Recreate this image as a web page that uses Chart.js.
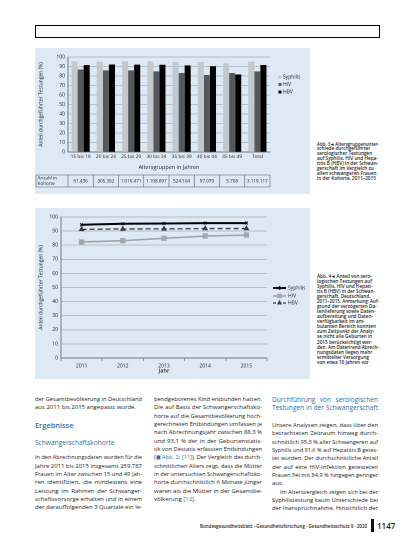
<!DOCTYPE html>
<html lang="de">
<head>
<meta charset="utf-8">
<title>Serologische Testungen in der Schwangerschaft</title>
<script src="https://cdn.jsdelivr.net/npm/chart.js@4.4.1/dist/chart.umd.min.js"></script>
<style>
  html, body { margin: 0; padding: 0; background: #fff; }
  body { width: 413px; height: 550px; position: relative; overflow: hidden;
         font-family: "Open Sans", sans-serif; color: #1c1c1c; }
  .kasten { position: absolute; left: 35px; top: 25px; width: 343px; height: 11px; border: 1px solid #000; }
  .panel { position: absolute; left: 35px; width: 275px; background: #dde9f5; }
  .panel canvas { position: absolute; left: 0; top: 0; }
  .zeile { position: absolute; white-space: nowrap; transform-origin: 0 50%; }
  .blau { color: #2f6fa8; }
</style>
</head>
<body>
<div class="kasten"></div>
<div class="panel" style="top:48px;height:146px"><canvas id="grafik-alter" width="275" height="146"></canvas></div>
<div class="panel" style="top:208px;height:171px"><canvas id="grafik-jahr" width="275" height="171"></canvas></div>

<script>
// ---------------------------------------------------------------------
// Daten Abb. 3 : Testungen nach Altersgruppen
// ---------------------------------------------------------------------
const altersgruppen = ['15 bis 19', '20 bis 24', '25 bis 29', '30 bis 34', '35 bis 39', '40 bis 44', '45 bis 49', 'Total'];
const syphilisAlter = [95.6, 95.0, 95.6, 95.4, 94.9, 94.8, 93.3, 95.3];
const hivAlter = [86.9, 85.9, 85.9, 84.9, 83.2, 81.1, 83.2, 84.9];
const hbvAlter = [91.4, 92.1, 92.0, 91.9, 91.2, 90.3, 81.6, 91.6];
const kohorte = ['61.436', '305.362', '1.016.471', '1.108.897', '524.164', '97.079', '5.708', '3.119.117'];

// Daten Abb. 4 : Testungen nach Jahr
const jahre = ['2011', '2012', '2013', '2014', '2015'];
const syphilisJahr = [94.5, 95.2, 95.4, 95.7, 95.7];
const hivJahr = [82.3, 83.2, 84.9, 86.5, 87.2];
const hbvJahr = [91.2, 91.5, 91.6, 91.8, 91.8];

const achsenMin = 0;
const achsenMax = 100;
const achsenSchritt = 10;

const schrift = "'Open Sans', sans-serif";
const achsenTitel = 'Anteil durchgeführter Testungen (%)';

// Tabelle "Anzahl in Kohorte" unter der x-Achse, an den Kategorien ausgerichtet
const tabellePlugin = {
  id: 'kohortenTabelle',
  afterDraw(chart) {
    const ctx = chart.ctx;
    const x = chart.scales.x;
    const oben = chart.chartArea.bottom + 23;
    const hoehe = 12;
    const n = altersgruppen.length;
    const breite = (x.right - x.left) / n;
    ctx.save();
    ctx.strokeStyle = '#5a5f64';
    ctx.lineWidth = 0.6;
    ctx.beginPath();
    ctx.moveTo(1, oben); ctx.lineTo(x.right, oben);
    ctx.moveTo(1, oben + hoehe); ctx.lineTo(x.right, oben + hoehe);
    ctx.moveTo(1, oben); ctx.lineTo(1, oben + hoehe);
    for (let i = 0; i <= n; i++) {
      const px = x.left + i * breite;
      ctx.moveTo(px, oben); ctx.lineTo(px, oben + hoehe);
    }
    ctx.stroke();
    ctx.fillStyle = '#222';
    ctx.font = '4.6px ' + schrift;
    ctx.textBaseline = 'middle';
    ctx.textAlign = 'left';
    ctx.fillText('Anzahl in', 2.5, oben + 3.3);
    ctx.fillText('Kohorte', 2.5, oben + 8.7);
    ctx.textAlign = 'center';
    kohorte.forEach((wert, i) => {
      ctx.fillText(wert, x.getPixelForValue(i), oben + hoehe / 2);
    });
    ctx.restore();
  }
};

// Eigene Legende rechts vom Diagramm (Kästchen oder Linie mit Markierung),
// Abstände gemessen ab Oberkante der Zeichenfläche
const legendePlugin = {
  id: 'legendeRechts',
  afterDraw(chart, args, opts) {
    const ctx = chart.ctx;
    const area = chart.chartArea;
    ctx.save();
    ctx.font = '5px ' + schrift;
    ctx.textBaseline = 'middle';
    ctx.textAlign = 'left';
    chart.data.datasets.forEach((ds, i) => {
      const y = area.top + opts.versatz[i];
      const x = area.right + opts.abstand;
      if (opts.art === 'linie') {
        ctx.strokeStyle = ds.borderColor;
        ctx.fillStyle = ds.backgroundColor;
        ctx.lineWidth = ds.borderWidth;
        ctx.setLineDash(ds.borderDash ? [3, 2] : []);
        ctx.beginPath();
        ctx.moveTo(x, y); ctx.lineTo(x + 13, y);
        ctx.stroke();
        ctx.setLineDash([]);
        Chart.helpers.drawPoint(ctx, { pointStyle: ds.pointStyle, radius: ds.pointRadius * 0.8, borderWidth: 1, rotation: 0 }, x + 6.5, y);
        ctx.fillStyle = '#222';
        ctx.fillText(ds.label, x + 15, y);
      } else {
        ctx.fillStyle = ds.backgroundColor;
        ctx.fillRect(x - 1.5, y - 1.5, 3, 3);
        ctx.fillStyle = '#222';
        ctx.fillText(ds.label, x + 3, y);
      }
    });
    ctx.restore();
  }
};

// Säulendiagramm : Anteil durchgeführter Testungen nach Altersgruppen
new Chart(document.getElementById('grafik-alter').getContext('2d'), {
  type: 'bar',
  data: {
    labels: altersgruppen,
    datasets: [
      { label: 'Syphilis', data: syphilisAlter, backgroundColor: '#c3c8cd' },
      { label: 'HIV', data: hivAlter, backgroundColor: '#53585d' },
      { label: 'HBV', data: hbvAlter, backgroundColor: '#000000' }
    ]
  },
  options: {
    responsive: false,
    animation: false,
    devicePixelRatio: 2,
    categoryPercentage: 0.72,
    barPercentage: 1.0,
    layout: { padding: { left: 2, right: 40, top: 9, bottom: 2 } },
    plugins: {
      legend: { display: false },
      tooltip: { enabled: false },
      legendeRechts: { art: 'kasten', abstand: 10, versatz: [20, 27.5, 35] }
    },
    scales: {
      y: {
        min: achsenMin, max: achsenMax,
        afterFit: (skala) => { skala.width = 31; },
        ticks: { stepSize: achsenSchritt, color: '#222', padding: 3, font: { size: 5, family: schrift } },
        grid: { color: '#8d959c', lineWidth: 0.6, drawTicks: false },
        border: { color: '#5a5f64', width: 0.8 },
        title: { display: true, text: achsenTitel, color: '#222', padding: 1, font: { size: 5, family: schrift } }
      },
      x: {
        afterFit: (skala) => { skala.height = 40; },
        ticks: { color: '#222', padding: 2, maxRotation: 0, minRotation: 0, autoSkip: false,
                 font: { size: 4.8, family: schrift } },
        grid: { display: false, drawTicks: false, tickLength: 0 },
        border: { color: '#5a5f64', width: 0.8 },
        title: { display: true, text: 'Altersgruppen in Jahren', color: '#222', padding: { top: 1, bottom: 21.5 },
                 font: { size: 5.5, family: schrift } }
      }
    }
  },
  plugins: [tabellePlugin, legendePlugin]
});

// Liniendiagramm : Anteil durchgeführter Testungen 2011-2015
new Chart(document.getElementById('grafik-jahr').getContext('2d'), {
  type: 'line',
  data: {
    labels: jahre,
    datasets: [
      { label: 'Syphilis', data: syphilisJahr, borderColor: '#000', backgroundColor: '#000',
        borderWidth: 2, pointStyle: 'crossRot', pointRadius: 2, pointBorderWidth: 1 },
      { label: 'HIV', data: hivJahr, borderColor: '#a3a6a9', backgroundColor: '#a3a6a9',
        borderWidth: 1.6, pointStyle: 'rect', pointRadius: 2.6 },
      { label: 'HBV', data: hbvJahr, borderColor: '#3c3f42', backgroundColor: '#3c3f42',
        borderWidth: 1.3, borderDash: [5, 3], pointStyle: 'triangle', pointRadius: 2.2 }
    ]
  },
  options: {
    responsive: false,
    animation: false,
    devicePixelRatio: 2,
    layout: { padding: { left: 2, right: 43, top: 9, bottom: 2 } },
    plugins: {
      legend: { display: false },
      tooltip: { enabled: false },
      legendeRechts: { art: 'linie', abstand: 6, versatz: [71, 79, 86] }
    },
    scales: {
      y: {
        min: achsenMin, max: achsenMax,
        afterFit: (skala) => { skala.width = 24; },
        ticks: { stepSize: achsenSchritt, color: '#222', padding: 3, font: { size: 5, family: schrift } },
        grid: { color: '#8d959c', lineWidth: 0.6, drawTicks: false },
        border: { color: '#5a5f64', width: 0.8 },
        title: { display: true, text: achsenTitel, color: '#222', padding: 1, font: { size: 5, family: schrift } }
      },
      x: {
        offset: true,
        afterFit: (skala) => { skala.height = 19; },
        ticks: { color: '#222', padding: 2, maxRotation: 0, font: { size: 5, family: schrift } },
        grid: { display: true, drawOnChartArea: false, offset: true, tickLength: 3, color: '#5a5f64', lineWidth: 0.6 },
        border: { color: '#5a5f64', width: 0.8 },
        title: { display: true, text: 'Jahr', color: '#222', padding: { top: 1, bottom: 2.7 },
                 font: { size: 5.5, family: schrift, weight: '600' } }
      }
    }
  },
  plugins: [legendePlugin]
});

// ---------------------------------------------------------------------
// Fliesstext, Bildunterschriften und Fusszeile
// ---------------------------------------------------------------------
const spalte1 = [
  { y: 399, t: 'der Gesamtbevölkerung in Deutschland', j: true },
  { y: 407, t: 'aus 2011 bis 2015 angepasst wurde.' },
  { y: 457.3, t: 'In den Abrechnungsdaten wurden für die', j: true },
  { y: 465.7, t: 'Jahre 2011 bis 2015 insgesamt 259.787', j: true },
  { y: 474, t: 'Frauen im Alter zwischen 15 und 49 Jah-', j: true },
  { y: 482.3, t: 'ren identifiziert, die mindestens eine', j: true },
  { y: 490.7, t: 'Leistung im Rahmen der Schwanger-', j: true },
  { y: 499, t: 'schaftsvorsorge erhalten und in einem', j: true },
  { y: 507.3, t: 'der darauffolgenden 3 Quartale ein le-', j: true }
];
const spalte2 = [
  { y: 399, t: 'bendgeborenes Kind entbunden hatten.', j: true },
  { y: 407, t: 'Die auf Basis der Schwangerschaftsko-', j: true },
  { y: 415.7, t: 'horte auf die Gesamtbevölkerung hoch-', j: true },
  { y: 424, t: 'gerechneten Entbindungen umfassen je', j: true },
  { y: 432.3, t: 'nach Abrechnungsjahr zwischen 88,3 %', j: true },
  { y: 440.7, t: 'und 93,1 % der in der Geburtenstatis-', j: true },
  { y: 449, t: 'tik von Destatis erfassten Entbindungen', j: true },
  { y: 457.3, t: '(<span class="blau">◼ Abb. 2</span>; <span class="blau">[11]</span>). Der Vergleich des durch-', j: true },
  { y: 465.7, t: 'schnittlichen Alters zeigt, dass die Mütter', j: true },
  { y: 474, t: 'in der untersuchten Schwangerschaftsko-', j: true },
  { y: 482.3, t: 'horte durchschnittlich 6 Monate jünger', j: true },
  { y: 490.7, t: 'waren als die Mütter in der Gesamtbe-', j: true },
  { y: 499, t: 'völkerung <span class="blau">[12]</span>.' }
];
const spalte3 = [
  { y: 425, t: 'Unsere Analysen zeigen, dass über den', j: true },
  { y: 433.3, t: 'betrachteten Zeitraum hinweg durch-', j: true },
  { y: 441.7, t: 'schnittlich 95,3 % aller Schwangeren auf', j: true },
  { y: 450, t: 'Syphilis und 91,6 % auf Hepatitis B getes-', j: true },
  { y: 458.3, t: 'tet wurden. Der durchschnittliche Anteil', j: true },
  { y: 466.7, t: 'der auf eine HIV-Infektion getesteten', j: true },
  { y: 475, t: 'Frauen fiel mit 84,9 % hingegen geringer', j: true },
  { y: 483.3, t: 'aus.' },
  { y: 491.7, t: 'Im Altersvergleich zeigen sich bei der', j: true, e: 8 },
  { y: 500, t: 'Syphilistestung kaum Unterschiede bei', j: true },
  { y: 508.3, t: 'der Inanspruchnahme. Hinsichtlich der', j: true }
];
const legende3 = [
  'Abb. 3 ◂ Altersgruppenunter-', 'schiede durchgeführter', 'serologischer Testungen',
  'auf Syphilis, HIV und Hepa-', 'titis B (HBV) in der Schwan-', 'gerschaft im Vergleich zu',
  'allen schwangeren Frauen', 'in der Kohorte, 2011–2015'
];
const legende4 = [
  'Abb. 4 ◂ Anteil von sero-', 'logischen Testungen auf', 'Syphilis, HIV und Hepati-',
  'tis B (HBV) in der Schwan-', 'gerschaft, Deutschland,', '2011–2015. Anmerkung: Auf-',
  'grund der verzögerten Da-', 'tenlieferung sowie Daten-', 'aufbereitung und Daten-',
  'verfügbarkeit im am-', 'bulanten Bereich konnten', 'zum Zeitpunkt der Analy-',
  'se nicht alle Geburten in', '2015 berücksichtigt wer-', 'den. Am Datenrand Abrech-',
  'nungsdaten liegen mehr', 'ermittelter Versorgung', 'von etwa 10 Jahren vor'
];

// Setzt eine Textzeile und streckt sie (Blocksatz) bzw. staucht sie auf die Spaltenbreite
function setzeZeile(zeile, x, breite, stil) {
  const el = document.createElement('div');
  el.className = 'zeile';
  el.innerHTML = zeile.t;
  const einzug = zeile.e || 0;
  const hoehe = stil.zeilenhoehe || 8;
  el.style.left = (x + einzug) + 'px';
  el.style.top = (zeile.y - hoehe / 2) + 'px';
  el.style.lineHeight = hoehe + 'px';
  el.style.fontSize = stil.groesse + 'px';
  if (stil.gewicht) el.style.fontWeight = stil.gewicht;
  if (stil.farbe) el.style.color = stil.farbe;
  document.body.appendChild(el);
  const ziel = breite - einzug;
  const w = el.getBoundingClientRect().width;
  if (w > ziel) {
    el.style.transform = 'scaleX(' + (ziel / w) + ')';
  } else if (zeile.j) {
    const luecken = (el.textContent.match(/ /g) || []).length;
    if (luecken > 0) el.style.wordSpacing = ((ziel - w) / luecken) + 'px';
  }
}

const fliess = { groesse: 6, zeilenhoehe: 8 };
spalte1.forEach((z) => setzeZeile(z, 35, 107, fliess));
spalte2.forEach((z) => setzeZeile(z, 154, 108, fliess));
spalte3.forEach((z) => setzeZeile(z, 272, 106, fliess));

// Überschriften
setzeZeile({ y: 425, t: 'Ergebnisse' }, 35, 107, { groesse: 7.4, gewicht: 600, farbe: '#2f6fa8', zeilenhoehe: 10 });
setzeZeile({ y: 442.3, t: 'Schwangerschaftskohorte' }, 35, 107, { groesse: 6.6, gewicht: 500, farbe: '#2f6fa8', zeilenhoehe: 9 });
setzeZeile({ y: 399.5, t: 'Durchführung von serologischen', j: true }, 272, 106, { groesse: 6.6, gewicht: 500, farbe: '#2f6fa8', zeilenhoehe: 8 });
setzeZeile({ y: 407.8, t: 'Testungen in der Schwangerschaft', j: true }, 272, 106, { groesse: 6.6, gewicht: 500, farbe: '#2f6fa8', zeilenhoehe: 8 });

// Bildunterschriften rechts neben den Grafiken
const klein = { groesse: 4.7, gewicht: 600, zeilenhoehe: 5 };
legende3.forEach((t, i) => setzeZeile({ y: 144 + i * 4.9, t: t }, 317, 62, klein));
legende4.forEach((t, i) => setzeZeile({ y: 276 + i * 5.08, t: t }, 317, 62, klein));

// Fusszeile
setzeZeile({ y: 525.5, t: 'Bundesgesundheitsblatt - Gesundheitsforschung - Gesundheitsschutz 9 · 2020' }, 200, 167,
  { groesse: 4.8, gewicht: 600, zeilenhoehe: 6 });
const balken = document.createElement('div');
balken.style.cssText = 'position:absolute;left:371px;top:519px;width:2.5px;height:13px;background:#111;';
document.body.appendChild(balken);
setzeZeile({ y: 525.5, t: '1147' }, 377, 22, { groesse: 8, gewicht: 600, zeilenhoehe: 10 });
</script>
</body>
</html>
